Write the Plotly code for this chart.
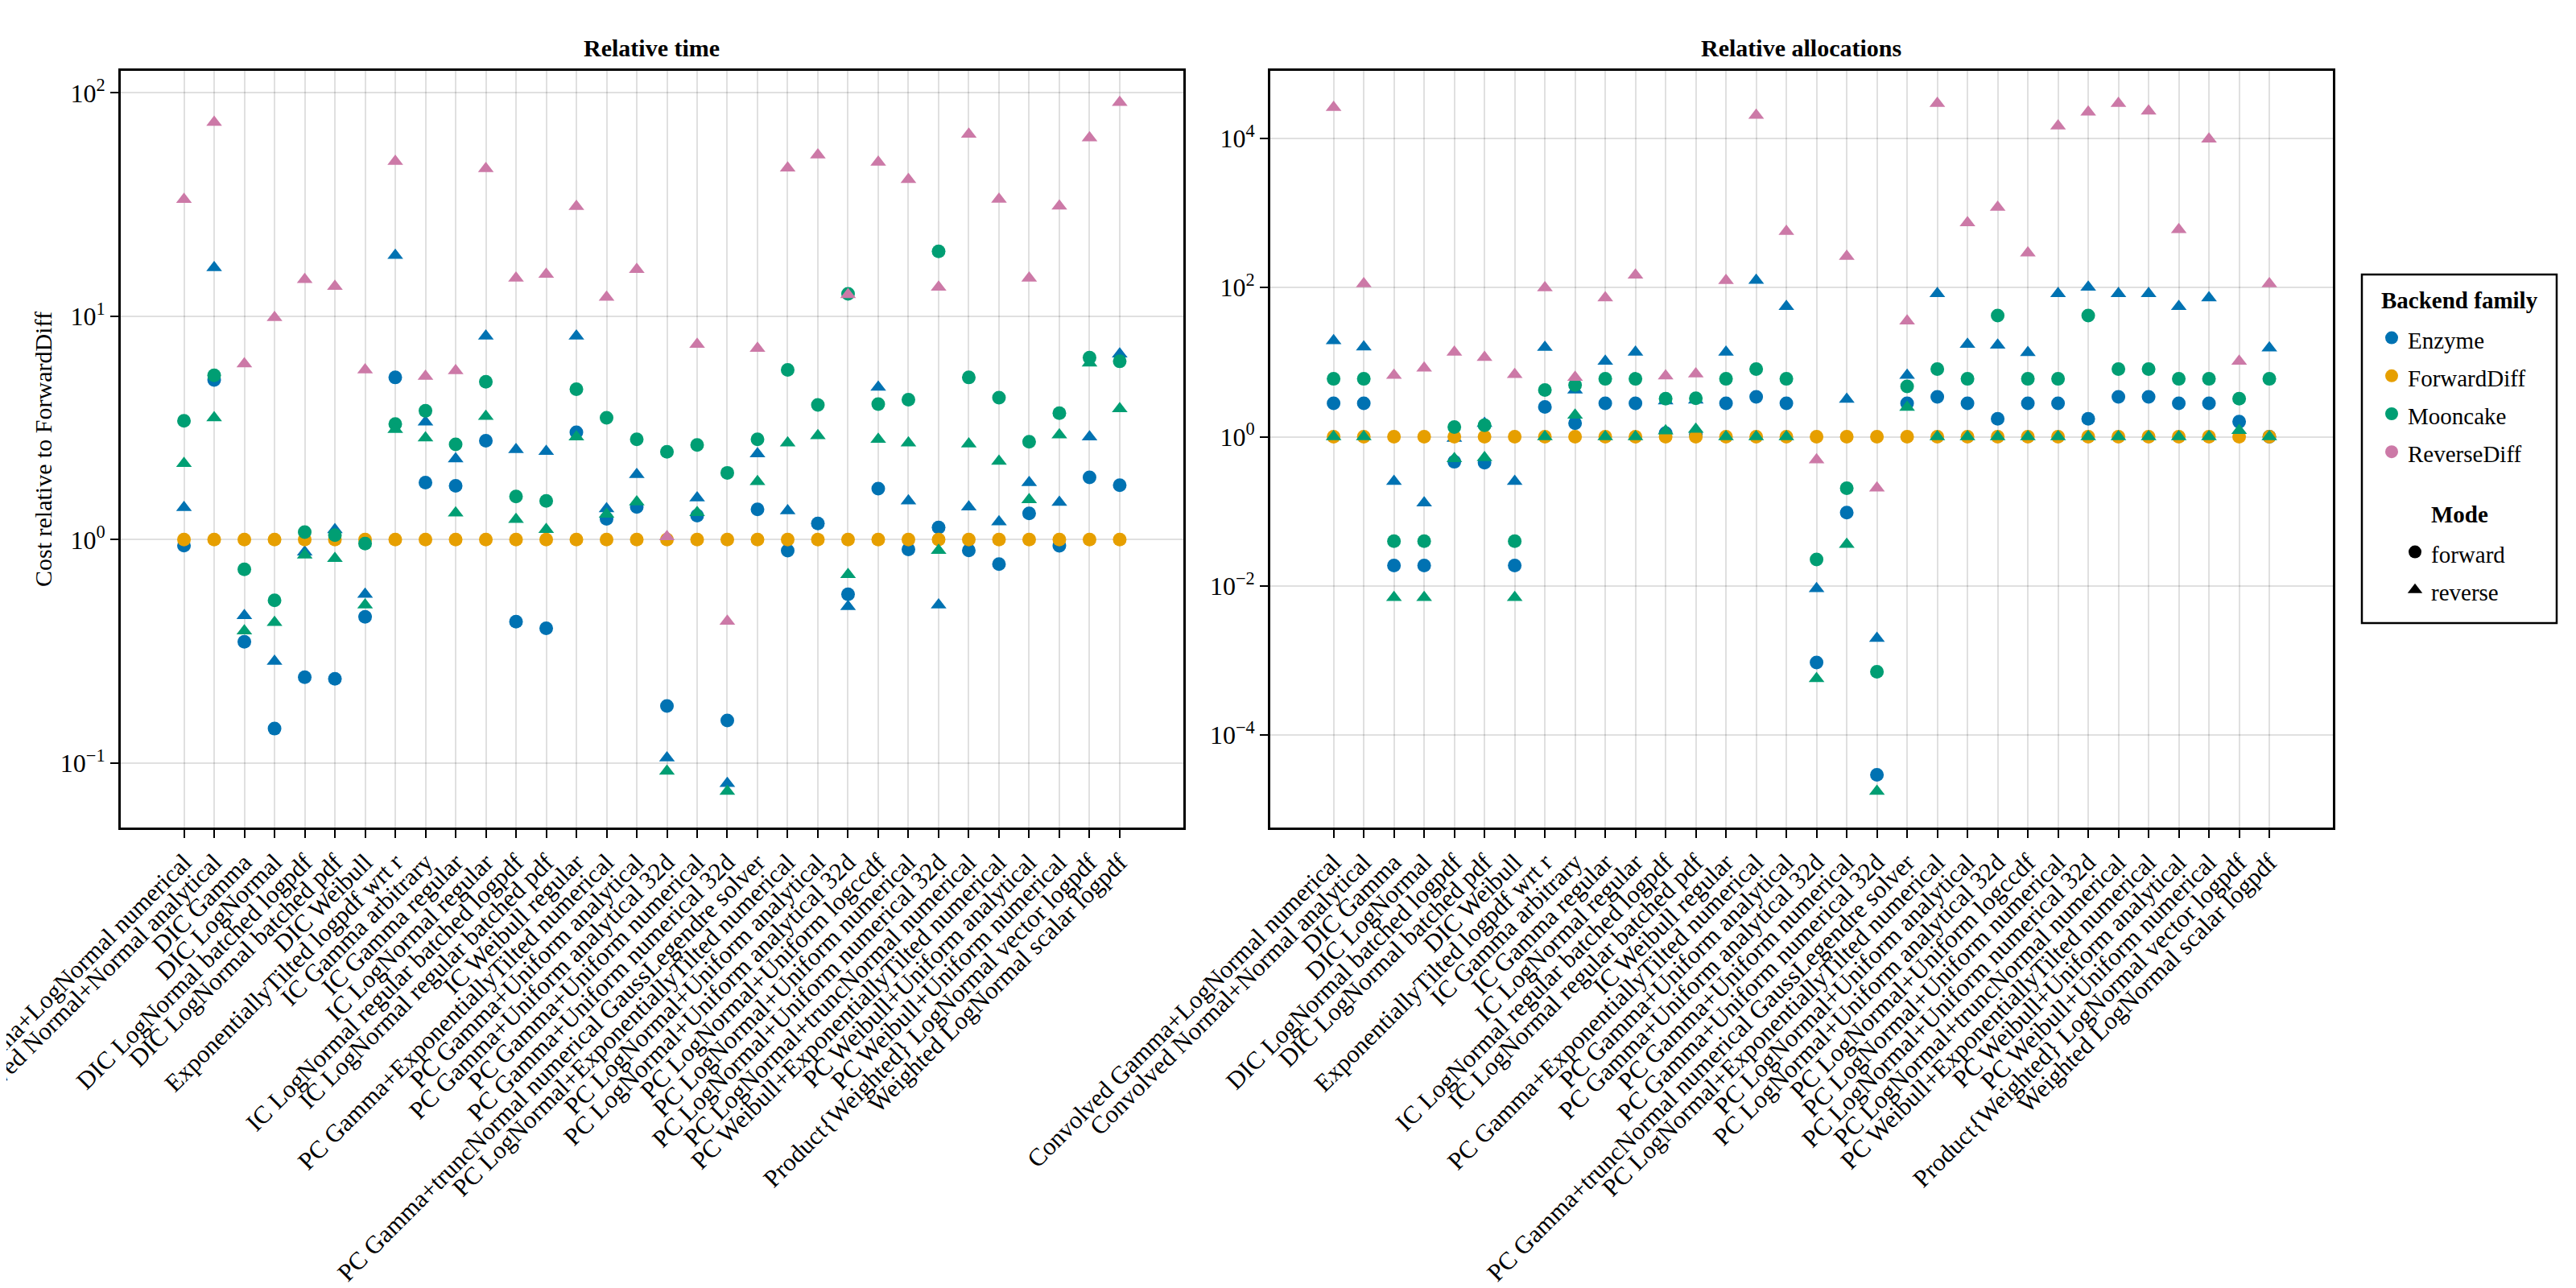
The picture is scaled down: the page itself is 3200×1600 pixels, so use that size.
import plotly.graph_objs as go

categories = [
    "Convolved Gamma+LogNormal numerical",
    "Convolved Normal+Normal analytical",
    "DIC Gamma",
    "DIC LogNormal",
    "DIC LogNormal batched logpdf",
    "DIC LogNormal batched pdf",
    "DIC Weibull",
    "ExponentiallyTilted logpdf wrt r",
    "IC Gamma arbitrary",
    "IC Gamma regular",
    "IC LogNormal regular",
    "IC LogNormal regular batched logpdf",
    "IC LogNormal regular batched pdf",
    "IC Weibull regular",
    "PC Gamma+ExponentiallyTilted numerical",
    "PC Gamma+Uniform analytical",
    "PC Gamma+Uniform analytical 32d",
    "PC Gamma+Uniform numerical",
    "PC Gamma+Uniform numerical 32d",
    "PC Gamma+truncNormal numerical GaussLegendre solver",
    "PC LogNormal+ExponentiallyTilted numerical",
    "PC LogNormal+Uniform analytical",
    "PC LogNormal+Uniform analytical 32d",
    "PC LogNormal+Uniform logccdf",
    "PC LogNormal+Uniform numerical",
    "PC LogNormal+Uniform numerical 32d",
    "PC LogNormal+truncNormal numerical",
    "PC Weibull+ExponentiallyTilted numerical",
    "PC Weibull+Uniform analytical",
    "PC Weibull+Uniform numerical",
    "Product{Weighted} LogNormal vector logpdf",
    "Weighted LogNormal scalar logpdf",
]

# relative time (cost / ForwardDiff)
enzyme_fwd_time = [0.94, 5.18, 0.349, 0.1425, 0.242, 0.238, 0.451, 5.32, 1.80, 1.74, 2.77, 0.429, 0.401, 3.02, 1.24, 1.40,
                   0.180, 1.28, 0.155, 1.365, 0.893, 1.18, 0.569, 1.69, 0.903, 1.134, 0.895, 0.777, 1.31, 0.938, 1.90, 1.75]
enzyme_rev_time = [1.39, 16.5, 0.457, 0.285, 0.88, 1.108, 0.569, 18.7, 3.36, 2.30, 8.14, 2.53, 2.48, 8.14, 1.375, 1.955,
                   0.1054, 1.536, 0.081, 2.42, 1.345, None, 0.501, 4.81, 1.49, 0.51, 1.40, 1.20, 1.80, 1.47, 2.88, 6.77]
forwarddiff_fwd_time = [1.0, 1.0, 1.0, 1.0, 1.0, 1.0, 1.0, 1.0, 1.0, 1.0, 1.0, 1.0, 1.0, 1.0, 1.0, 1.0,
                        1.0, 1.0, 1.0, 1.0, 1.0, 1.0, 1.0, 1.0, 1.0, 1.0, 1.0, 1.0, 1.0, 1.0, 1.0, 1.0]
mooncake_fwd_time = [3.40, 5.44, 0.736, 0.535, 1.08, 1.048, 0.959, 3.29, 3.77, 2.67, 5.09, 1.56, 1.49, 4.71, 3.51, 2.81,
                     2.47, 2.65, 1.99, 2.81, 5.75, 4.01, 12.6, 4.04, 4.23, 19.5, 5.32, 4.32, 2.74, 3.68, 6.52, 6.28]
mooncake_rev_time = [2.19, 3.51, 0.390, 0.426, 0.852, 0.824, 0.51, 3.11, 2.85, 1.315, 3.56, 1.23, 1.11, 2.88, 1.30, 1.476,
                     0.0918, 1.32, 0.0746, 1.82, 2.71, 2.92, 0.698, 2.81, 2.71, 0.895, 2.68, 2.24, 1.51, 2.94, 6.17, 3.85]
reversediff_rev_time = [33.3, 73.8, 6.12, 9.87, 14.6, 13.6, 5.75, 49.3, 5.38, 5.70, 45.8, 14.8, 15.4, 31.0, 12.15, 16.2,
                        1.03, 7.48, 0.431, 7.18, 46.1, 52.7, 12.5, 48.9, 40.9, 13.5, 65.3, 33.4, 14.8, 31.1, 62.9, 90.5]

# relative allocations
enzyme_fwd_alloc = [2.81, 2.81, 0.01875, 0.01875, 0.462, 0.45, 0.01875, 2.51, 1.52, 2.81, 2.81, 1.12, 1.08, 2.81, 3.43, 2.81,
                    0.00094, 0.096, 0.0000294, 2.81, 3.43, 2.81, 1.74, 2.81, 2.81, 1.74, 3.43, 3.43, 2.81, 2.81, 1.59, 1.0]
enzyme_rev_alloc = [19.4, 16.0, 0.252, 0.130, 0.95, 1.51, 0.252, 15.8, 4.23, 10.3, 13.6, 3.03, 3.1, 13.6, 125, 55.5,
                    0.0092, 3.17, 0.00199, 6.67, 82.8, 17.3, 16.9, 13.4, 82.8, 101, 82.8, 82.8, 55.5, 72.5, None, 15.5]
forwarddiff_fwd_alloc = [1.0, 1.0, 1.0, 1.0, 1.0, 1.0, 1.0, 1.0, 1.0, 1.0, 1.0, 1.0, 1.0, 1.0, 1.0, 1.0,
                         1.0, 1.0, 1.0, 1.0, 1.0, 1.0, 1.0, 1.0, 1.0, 1.0, 1.0, 1.0, 1.0, 1.0, 1.0, 1.0]
mooncake_fwd_alloc = [5.97, 5.97, 0.0399, 0.0399, 1.35, 1.43, 0.0399, 4.23, 4.94, 5.97, 5.97, 3.24, 3.28, 5.97, 8.05, 5.97,
                      0.0227, 0.204, 0.000706, 4.73, 8.05, 5.97, 42.1, 5.97, 5.97, 42.1, 8.05, 8.05, 5.97, 5.97, 3.24, 5.97]
mooncake_rev_alloc = [1.0, 1.0, 0.0070, 0.0070, 0.51, 0.525, 0.0070, 1.0, 1.95, 1.0, 1.0, 1.2, 1.26, 1.0, 1.0, 1.0,
                      0.000574, 0.0361, 0.0000177, 2.48, 1.0, 1.0, 1.0, 1.0, 1.0, 1.0, 1.0, 1.0, 1.0, 1.0, 1.21, 1.0]
reversediff_rev_alloc = [25900, 112, 6.67, 8.32, 13.6, 11.6, 6.82, 98.9, 6.24, 72.5, 147, 6.52, 6.97, 124, 20300, 565,
                         0.49, 262, 0.206, 35.6, 29300, 737, 1188, 290, 14600, 22500, 29300, 23200, 597, 9780, 10.3, 112]

backends = ["Enzyme", "ForwardDiff", "Mooncake", "ReverseDiff"]
modes = ["forward", "reverse"]
colors = {"Enzyme": "#0072B2", "ForwardDiff": "#E69F00", "Mooncake": "#009E73", "ReverseDiff": "#CC79A7"}
symbols = {"forward": "circle", "reverse": "triangle-up"}

time_ticks = [0.1, 1, 10, 100]
time_ticktext = ["10<sup>−1</sup>", "10<sup>0</sup>", "10<sup>1</sup>", "10<sup>2</sup>"]
alloc_ticks = [1e-4, 1e-2, 1, 1e2, 1e4]
alloc_ticktext = ["10<sup>−4</sup>", "10<sup>−2</sup>", "10<sup>0</sup>", "10<sup>2</sup>", "10<sup>4</sup>"]

FONT = "Liberation Serif"
W, H = 3200, 1600


def add_series(fig, xref, yref, series):
    # series: list of (backend, mode, values), drawn in order
    for backend, mode, values in series:
        fig.add_trace(go.Scatter(x=categories, y=values, mode="markers", xaxis=xref, yaxis=yref,
                                 marker=dict(color=colors[backend], symbol=symbols[mode], size=17,
                                             line=dict(width=0)),
                                 showlegend=False, cliponaxis=False))


def legend_label(text):
    # legend row height follows the legend font size, so the label itself is set smaller
    return '<span style="font-size:29px">%s</span>' % text


def text_note(text, x, y, size=30, angle=0):
    return dict(text=text, x=x / W, y=1 - y / H, xref="paper", yref="paper", showarrow=False,
                textangle=angle, font=dict(size=size), xanchor="center", yanchor="middle")


fig = go.Figure()
add_series(fig, "x", "y", [("Enzyme", "forward", enzyme_fwd_time), ("Enzyme", "reverse", enzyme_rev_time),
                           ("ForwardDiff", "forward", forwarddiff_fwd_time),
                           ("Mooncake", "forward", mooncake_fwd_time), ("Mooncake", "reverse", mooncake_rev_time),
                           ("ReverseDiff", "reverse", reversediff_rev_time)])
add_series(fig, "x2", "y2", [("Enzyme", "forward", enzyme_fwd_alloc), ("Enzyme", "reverse", enzyme_rev_alloc),
                             ("ForwardDiff", "forward", forwarddiff_fwd_alloc),
                             ("Mooncake", "forward", mooncake_fwd_alloc), ("Mooncake", "reverse", mooncake_rev_alloc),
                             ("ReverseDiff", "reverse", reversediff_rev_alloc)])

# legend entries (two legends inside one framed box)
for b in backends:
    fig.add_trace(go.Scatter(x=[None], y=[None], mode="markers", name=legend_label(b), legend="legend",
                             marker=dict(color=colors[b], symbol="circle", size=17)))
for m in modes:
    fig.add_trace(go.Scatter(x=[None], y=[None], mode="markers", name=legend_label(m), legend="legend2",
                             marker=dict(color="black", symbol=symbols[m], size=17)))

xaxis_style = dict(type="category", categoryorder="array", categoryarray=categories, range=[-2.1, 33.1],
                   tickmode="linear", tick0=0, dtick=1, automargin=False,
                   showgrid=True, gridcolor="rgba(0,0,0,0.12)", gridwidth=2, zeroline=False,
                   showline=True, linecolor="black", linewidth=2.5, mirror=True,
                   ticks="outside", ticklen=10, tickwidth=2, tickcolor="black", tickangle=-45,
                   tickfont=dict(family=FONT, size=31, color="black"))
yaxis_style = dict(type="log", automargin=False,
                   showgrid=True, gridcolor="rgba(0,0,0,0.12)", gridwidth=2, zeroline=False,
                   showline=True, linecolor="black", linewidth=2.5, mirror=True,
                   ticks="outside", ticklen=10, tickwidth=2, tickcolor="black",
                   tickfont=dict(family=FONT, size=32, color="black"), domain=[0.3625, 0.9501])

legend_style = dict(xanchor="left", yanchor="top", borderwidth=0, bgcolor="rgba(0,0,0,0)",
                    font=dict(family=FONT, size=34, color="black"))

fig.update_layout(
    width=W, height=H,
    paper_bgcolor="white", plot_bgcolor="white",
    margin=dict(l=0, r=0, t=0, b=0),
    font=dict(family=FONT, size=30, color="black"),
    xaxis=dict(xaxis_style, domain=[141.8 / W, 1461.7 / W], anchor="y"),
    xaxis2=dict(xaxis_style, domain=[1569.9 / W, 2889.8 / W], anchor="y2"),
    yaxis=dict(yaxis_style, anchor="x", range=[-1.289, 2.099], tickvals=time_ticks, ticktext=time_ticktext),
    yaxis2=dict(yaxis_style, anchor="x2", range=[-5.238, 4.906], tickvals=alloc_ticks, ticktext=alloc_ticktext),
    legend=dict(legend_style, x=2943 / W, y=1 - 383 / H),
    legend2=dict(legend_style, x=2972 / W, y=1 - 649 / H),
    shapes=[dict(type="rect", xref="paper", yref="paper", x0=2926 / W, x1=3168 / W,
                 y0=1 - 766 / H, y1=1 - 333 / H, line=dict(color="black", width=2.5))],
    annotations=[
        text_note("<b>Relative time</b>", 801.7, 52),
        text_note("<b>Relative allocations</b>", 2229.9, 52),
        text_note("Cost relative to ForwardDiff", 45, 550, angle=-90),
        text_note("<b>Backend family</b>", 3047, 365, size=29),
        text_note("<b>Mode</b>", 3047, 631, size=29),
    ],
)

fig.write_html("out.html")
